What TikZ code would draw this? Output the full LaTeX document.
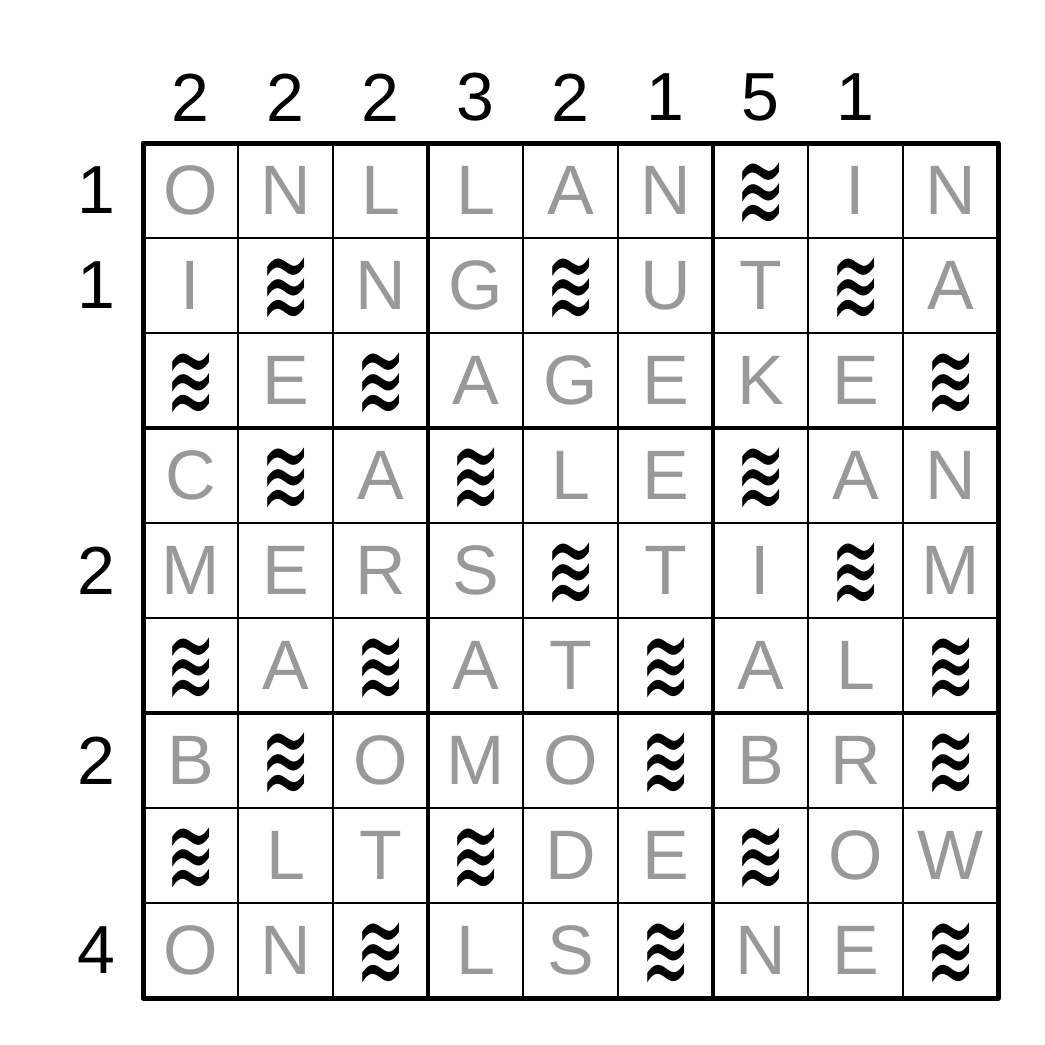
\documentclass[tikz,border=0pt]{standalone}
\usepackage{fontspec}
\setmainfont{Liberation Sans}
\newfontfamily\wavefont{DejaVu Sans}
\newcommand{\wavesym}{\scalebox{0.98}[1.85]{≋}}
\begin{document}
\begin{tikzpicture}[x=1pt,y=-1pt,
  letter/.style={inner sep=0pt,text=black!40,font=\fontsize{70}{84}\selectfont},
  clue/.style={inner sep=0pt,text=black,font=\fontsize{68}{80}\selectfont},
  wave/.style={inner sep=0pt,text=black,font=\wavefont\fontsize{60}{68}\selectfont,yshift=-5.5pt,xshift=1pt}]
\useasboundingbox (0,0) rectangle (1045,1045);
\fill[white] (0,0) rectangle (1045,1045);
% thin lines
\foreach \i in {1,2,4,5,7,8}{
  \draw[line width=1.5pt] (143+95*\i,143) -- (143+95*\i,998);
  \draw[line width=1.5pt] (143,143+95*\i) -- (998,143+95*\i);
}
\foreach \i in {3,6}{
  \draw[line width=4.5pt] (143+95*\i,143) -- (143+95*\i,998);
  \draw[line width=4.5pt] (143,143+95*\i) -- (998,143+95*\i);
}
\draw[line width=5pt,line join=round] (143,143) rectangle (998,998);
% column clues
\foreach \c/\v in {1/2,2/2,3/2,4/3,5/2,6/1,7/5,8/1}{
  \node[clue] (cc\c) at (95.5+95*\c,97.5) {\v};
}
% row clues
\foreach \r/\v in {1/1,2/1,5/2,7/2,9/4}{
  \node[clue] (rc\r) at (96,95.5+95*\r) {\v};
}
% grid contents
\foreach \row [count=\r] in {
  {O,N,L,L,A,N,*,I,N},
  {I,*,N,G,*,U,T,*,A},
  {*,E,*,A,G,E,K,E,*},
  {C,*,A,*,L,E,*,A,N},
  {M,E,R,S,*,T,I,*,M},
  {*,A,*,A,T,*,A,L,*},
  {B,*,O,M,O,*,B,R,*},
  {*,L,T,*,D,E,*,O,W},
  {O,N,*,L,S,*,N,E,*}}{
  \foreach \ch [count=\c] in \row {
    \if*\ch
      \node[wave] (g\r-\c) at (95.5+95*\c,95.5+95*\r) {\wavesym};
    \else
      \node[letter] (g\r-\c) at (95.5+95*\c,95.5+95*\r) {\ch};
    \fi
  }
}
\end{tikzpicture}
\end{document}
